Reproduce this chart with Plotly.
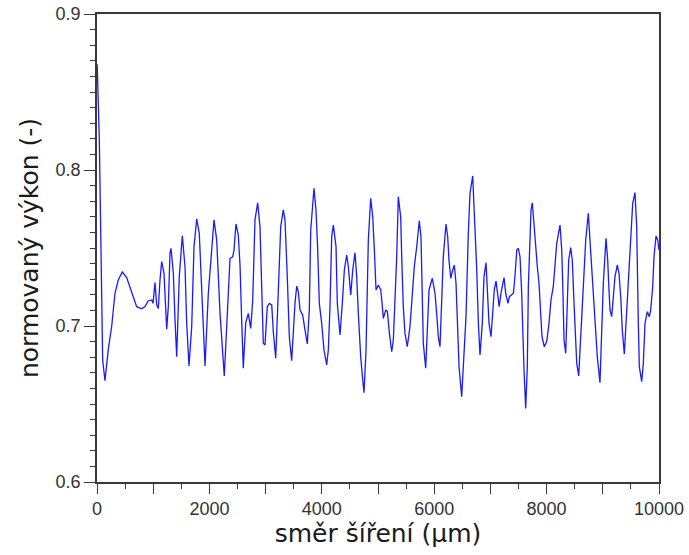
import plotly.graph_objects as go

# data
x_um = [0, 5, 41, 66, 84, 101, 142, 201, 262, 320, 379, 450, 528, 587, 646, 706, 795, 854, 913, 973,
        997, 1032, 1062, 1091, 1121, 1151, 1192, 1228, 1240, 1269, 1299, 1317, 1358, 1388, 1418, 1464,
        1518, 1566, 1596, 1637, 1685, 1726, 1774, 1820, 1863, 1922, 1981, 2082, 2130, 2189, 2265, 2319,
        2367, 2415, 2438, 2455, 2473, 2514, 2545, 2574, 2603, 2646, 2692, 2735, 2771, 2811, 2859, 2900,
        2931, 2959, 2989, 3030, 3066, 3109, 3137, 3180, 3209, 3244, 3269, 3315, 3345, 3386, 3422, 3464,
        3493, 3523, 3554, 3582, 3612, 3660, 3701, 3742, 3778, 3803, 3861, 3897, 3927, 3956, 3998, 4039,
        4087, 4116, 4146, 4176, 4205, 4253, 4276, 4324, 4365, 4401, 4443, 4472, 4515, 4550, 4591, 4621,
        4650, 4692, 4728, 4751, 4787, 4810, 4828, 4870, 4906, 4935, 4965, 5006, 5049, 5072, 5095, 5138,
        5167, 5203, 5244, 5273, 5303, 5333, 5361, 5404, 5422, 5450, 5480, 5521, 5569, 5610, 5646, 5689,
        5735, 5765, 5788, 5806, 5849, 5878, 5908, 5966, 6014, 6044, 6073, 6103, 6133, 6162, 6210, 6240,
        6263, 6294, 6329, 6358, 6388, 6411, 6442, 6489, 6530, 6566, 6607, 6637, 6685, 6726, 6757, 6786,
        6815, 6856, 6886, 6922, 6945, 6975, 7011, 7041, 7069, 7100, 7130, 7157, 7188, 7242, 7272, 7312,
        7339, 7382, 7409, 7439, 7469, 7497, 7527, 7557, 7575, 7598, 7628, 7657, 7675, 7705, 7723, 7746,
        7776, 7806, 7835, 7865, 7895, 7918, 7959, 8002, 8043, 8078, 8119, 8150, 8180, 8239, 8269, 8287,
        8310, 8340, 8369, 8393, 8429, 8457, 8488, 8511, 8536, 8571, 8607, 8643, 8666, 8696, 8742, 8772,
        8803, 8831, 8861, 8902, 8950, 8981, 9009, 9057, 9087, 9110, 9128, 9158, 9187, 9217, 9258, 9288,
        9319, 9347, 9383, 9413, 9443, 9472, 9502, 9532, 9573, 9603, 9632, 9650, 9692, 9721, 9751, 9792,
        9828, 9852, 9888, 9911, 9947, 9977, 10000]
power = [0.868, 0.866, 0.820, 0.766, 0.704, 0.678, 0.665, 0.685, 0.700, 0.721, 0.7295, 0.7346, 0.731,
         0.7244, 0.718, 0.7124, 0.711, 0.7124, 0.7162, 0.7167, 0.7145, 0.7278, 0.7135, 0.7113, 0.7295,
         0.7413, 0.7338, 0.704, 0.698, 0.7124, 0.7468, 0.7498, 0.7338, 0.704, 0.6803, 0.7316, 0.7579,
         0.738, 0.7017, 0.6744, 0.6996, 0.7509, 0.7686, 0.7594, 0.721, 0.6744, 0.721, 0.768, 0.7551,
         0.7081, 0.668, 0.704, 0.7434, 0.7444, 0.7487, 0.7572, 0.7654, 0.7583, 0.739, 0.704, 0.6729,
         0.7019, 0.7081, 0.6985, 0.7167, 0.768, 0.779, 0.7637, 0.7316, 0.6889, 0.6878, 0.7124, 0.7145,
         0.7135, 0.6964, 0.6793, 0.706, 0.7444, 0.7637, 0.7744, 0.768, 0.7316, 0.6931, 0.6778, 0.6974,
         0.7145, 0.7256, 0.722, 0.7103, 0.707, 0.6974, 0.6885, 0.7103, 0.7615, 0.7883, 0.7744, 0.7487,
         0.7145, 0.7017, 0.6846, 0.675, 0.6846, 0.7124, 0.7572, 0.7647, 0.7509, 0.7145, 0.6942, 0.7145,
         0.7359, 0.7455, 0.738, 0.7199, 0.7359, 0.747, 0.7316, 0.7081, 0.6803, 0.6654, 0.6573, 0.6846,
         0.7231, 0.7551, 0.7819, 0.770, 0.7487, 0.7231, 0.7263, 0.7231, 0.7145, 0.7049, 0.7103, 0.7092,
         0.6953, 0.6835, 0.691, 0.7167, 0.7444, 0.7829, 0.770, 0.7444, 0.7124, 0.6953, 0.6867, 0.6996,
         0.7188, 0.738, 0.7509, 0.7675, 0.7572, 0.7145, 0.6889, 0.6729, 0.6932, 0.7231, 0.7306, 0.721,
         0.7081, 0.6931, 0.6867, 0.7124, 0.7444, 0.7654, 0.7572, 0.7423, 0.7306, 0.7359, 0.739, 0.7274,
         0.6974, 0.6739, 0.6547, 0.6803, 0.706, 0.7594, 0.7851, 0.7962, 0.7637, 0.7359, 0.7017, 0.6814,
         0.7017, 0.7316, 0.7406, 0.7231, 0.7017, 0.6931, 0.7124, 0.7231, 0.7288, 0.7188, 0.7124, 0.721,
         0.731, 0.721, 0.7145, 0.7188, 0.7199, 0.721, 0.7327, 0.7487, 0.7498, 0.7444, 0.721, 0.6974,
         0.6718, 0.6472, 0.6739, 0.7252, 0.7551, 0.7744, 0.779, 0.7637, 0.7509, 0.738, 0.7274, 0.7081,
         0.6931, 0.6867, 0.690, 0.7017, 0.7167, 0.7252, 0.7423, 0.753, 0.7647, 0.7487, 0.7274, 0.691,
         0.6825, 0.7124, 0.7423, 0.7502, 0.7423, 0.7145, 0.6931, 0.6761, 0.668, 0.6931, 0.7188, 0.7423,
         0.7551, 0.7722, 0.7551, 0.738, 0.7231, 0.7017, 0.6803, 0.6637, 0.6953, 0.7274, 0.7562, 0.7423,
         0.7231, 0.7103, 0.706, 0.721, 0.7316, 0.739, 0.7338, 0.7188, 0.6974, 0.682, 0.7017, 0.721,
         0.7423, 0.7637, 0.7786, 0.7855, 0.7637, 0.7017, 0.6739, 0.6643, 0.6761, 0.7017, 0.7092, 0.706,
         0.7103, 0.7252, 0.7444, 0.7577, 0.7551, 0.7487]

x_tickvals = [0, 1000, 2000, 3000, 4000, 5000, 6000, 7000, 8000, 9000, 10000]
x_ticktext = ["0", "", "2000", "", "4000", "", "6000", "", "8000", "", "10000"]
y_tickvals = [0.6, 0.7, 0.8, 0.9]
y_ticktext = ["0.6", "0.7", "0.8", "0.9"]

axis_color = "#3a3a3a"
tick_font = dict(family="Liberation Sans, Arial, sans-serif", size=18, color="#333333")
title_font = dict(family="DejaVu Sans, sans-serif", size=25, color="#1a1a1a")

fig = go.Figure()
fig.add_trace(go.Scatter(x=x_um, y=power, mode="lines",
                         line=dict(color="#1a1aff", width=1.3), showlegend=False))

fig.update_layout(
    width=689, height=555,
    margin=dict(l=97, r=30, t=14, b=73, autoexpand=False),
    paper_bgcolor="white", plot_bgcolor="white",
)
fig.update_xaxes(
    range=[0, 10000], tickmode="array", tickvals=x_tickvals, ticktext=x_ticktext,
    ticks="outside", ticklen=10, tickwidth=1.3, tickcolor=axis_color,
    minor=dict(ticks="outside", dtick=500, tick0=0, ticklen=5, tickwidth=1.3, tickcolor=axis_color, showgrid=False),
    showline=True, linecolor=axis_color, linewidth=1.5, mirror=True, automargin=False,
    showgrid=False, zeroline=False, tickfont=tick_font,
    title=dict(text="směr šíření (μm)", font=title_font, standoff=2),
)
fig.update_yaxes(
    range=[0.6, 0.9], tickmode="array", tickvals=y_tickvals, ticktext=y_ticktext,
    ticks="outside", ticklen=11, tickwidth=1.3, tickcolor=axis_color,
    minor=dict(ticks="outside", dtick=0.01, tick0=0.6, ticklen=5, tickwidth=1.3, tickcolor=axis_color, showgrid=False),
    showline=True, linecolor=axis_color, linewidth=1.5, mirror=True, automargin=False,
    showgrid=False, zeroline=False, tickfont=tick_font,
    title=dict(text="normovaný výkon (-)", font=title_font, standoff=10),
)

fig.write_html("out.html")
